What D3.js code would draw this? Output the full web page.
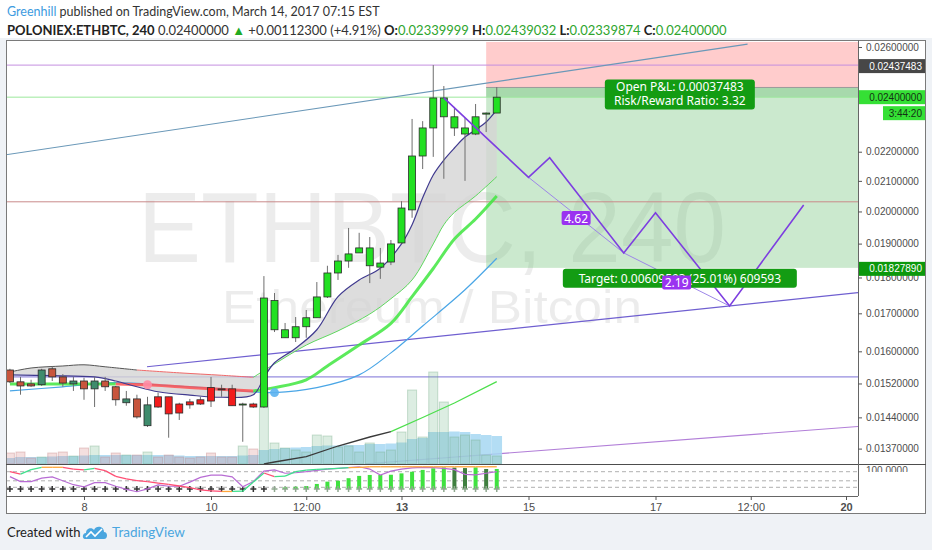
<!DOCTYPE html>
<html>
<head>
<meta charset="utf-8">
<script src="https://cdn.jsdelivr.net/npm/d3@7/dist/d3.min.js"></script>
<style>
  html, body { margin: 0; padding: 0; background: #eff2f6; }
  svg { display: block; }
  .axis text { font-family: 'Liberation Sans', Arial, sans-serif; font-size: 10px; fill: #4d4d4d; }
  .axis line { stroke: #555; }
  .axis .domain { display: none; }
</style>
</head>
<body>
<svg class="chart" width="932" height="550"></svg>
<script>
// ---- data ----
var author = 'Greenhill';
var published = 'March 14, 2017 07:15 EST';
var symbol = 'ETHBTC';
var exchange = 'POLONIEX';
var interval = '240';
var subtitle = 'Ethereum / Bitcoin';
var quote = {last: '0.02400000', change: '+0.00112300 (+4.91%)', o: '0.02339999', h: '0.02439032', l: '0.02339874', c: '0.02400000'};

var candleOpen = [0.01553, 0.01524, 0.01519, 0.01517, 0.01556, 0.01536, 0.01519, 0.01526, 0.01507, 0.01526,
                  0.01512, 0.01474, 0.01483, 0.01421, 0.01488, 0.01488, 0.01471, 0.01476, 0.01481, 0.01510,
                  0.01507, 0.01507, 0.01469, 0.01471, 0.01464, 0.01656, 0.01635, 0.01635, 0.01664, 0.01688,
                  0.01745, 0.01813, 0.01848, 0.01872, 0.01834, 0.01830, 0.01845, 0.01902, 0.02005, 0.02185,
                  0.02285, 0.02326, 0.02285, 0.02263, 0.02263, 0.02336, 0.02340];
var candleHigh = [0.01556, 0.01536, 0.01529, 0.01556, 0.01563, 0.01543, 0.01536, 0.01534, 0.01536, 0.01536,
                  0.01514, 0.01502, 0.01493, 0.01488, 0.01498, 0.01488, 0.01474, 0.01483, 0.01488, 0.01536,
                  0.01517, 0.01517, 0.01474, 0.01474, 0.01804, 0.01756, 0.01674, 0.01690, 0.01709, 0.01787,
                  0.01834, 0.01866, 0.01948, 0.01933, 0.01920, 0.01887, 0.01911, 0.02033, 0.02318, 0.02310,
                  0.02526, 0.02443, 0.02363, 0.02322, 0.02374, 0.02342, 0.02439];
var candleLow = [0.01521, 0.01493, 0.01512, 0.01514, 0.01526, 0.01512, 0.01502, 0.01481, 0.01464, 0.01502,
                 0.01467, 0.01467, 0.01437, 0.01418, 0.01462, 0.01394, 0.01434, 0.01460, 0.01469, 0.01464,
                 0.01488, 0.01467, 0.01385, 0.01462, 0.01462, 0.01650, 0.01635, 0.01624, 0.01635, 0.01688,
                 0.01742, 0.01793, 0.01828, 0.01872, 0.01784, 0.01796, 0.01836, 0.01899, 0.01980, 0.02140,
                 0.02182, 0.02107, 0.02256, 0.02100, 0.02259, 0.02270, 0.02340];
var candleClose = [0.01524, 0.01514, 0.01514, 0.01553, 0.01536, 0.01521, 0.01526, 0.01507, 0.01526, 0.01512,
                   0.01481, 0.01483, 0.01441, 0.01469, 0.01464, 0.01448, 0.01450, 0.01469, 0.01471, 0.01478,
                   0.01505, 0.01467, 0.01471, 0.01464, 0.01742, 0.01735, 0.01656, 0.01664, 0.01688, 0.01745,
                   0.01813, 0.01848, 0.01869, 0.01887, 0.01887, 0.01842, 0.01899, 0.02011, 0.02185, 0.02285,
                   0.02397, 0.02397, 0.02326, 0.02285, 0.02326, 0.02340, 0.02400];

var volume = [110, 120, 60, 70, 110, 120, 80, 160, 180, 70, 110, 90, 90, 120, 70, 90, 70, 60, 70, 110,
              70, 70, 180, 150, 720, 210, 160, 140, 120, 290, 280, 170, 180, 120, 210, 120, 140, 320, 740, 270,
              920, 620, 270, 290, 240, 90, 80];
var volumeAvg = [60, 70, 70, 70, 75, 80, 80, 85, 90, 90, 90, 90, 90, 90, 90, 90, 85, 80, 80, 80,
                 80, 80, 85, 90, 140, 150, 160, 165, 170, 180, 185, 185, 190, 190, 200, 200, 205, 215, 250, 260,
                 320, 320, 325, 320, 300, 290, 280];
var volumeTrend = [[24, 0], [25, 20], [28, 73], [31, 180], [34, 270], [36, 323], [39, 465], [42, 610], [46, 823]];

// moving averages: [bar, price]
var emaFast = [[0, 0.01541], [4, 0.01539], [8, 0.01536], [10, 0.01526], [12, 0.01512], [14, 0.01500], [17, 0.01492],
               [20, 0.01487], [23, 0.01493], [24, 0.01534], [25, 0.01571], [27, 0.01608], [29, 0.01656], [31, 0.01746],
               [33, 0.01793], [35, 0.01827], [37, 0.01899], [38, 0.01958], [39, 0.02044], [40, 0.02120], [41, 0.02171],
               [42, 0.02213], [43, 0.02252], [44, 0.02278], [45, 0.02307], [46, 0.02352]];
var emaSlow = [[0, 0.01548], [2, 0.01558], [5, 0.01563], [7, 0.01566], [9, 0.01561], [12, 0.01553], [16, 0.01546],
               [20, 0.01540], [23, 0.01535], [25, 0.01568], [28, 0.01616], [31, 0.01653], [34, 0.01698], [36, 0.01740],
               [38, 0.01793], [40, 0.01899], [41, 0.01958], [42, 0.01997], [44, 0.02050], [46, 0.02114]];
var emaMid = [[0, 0.01519], [5, 0.01519], [10, 0.01519], [13, 0.01517], [16, 0.01512], [19, 0.01507], [23, 0.01502],
              [25, 0.01510], [28, 0.01529], [30, 0.01563], [33, 0.01616], [36, 0.01673], [38, 0.01746], [40, 0.01826],
              [42, 0.01914], [44, 0.01976], [46, 0.02050]];
var emaLong = [[0, 0.01502], [5, 0.01512], [10, 0.01522], [15, 0.01515], [20, 0.01507], [23, 0.01500], [25, 0.01498],
               [29, 0.01510], [33, 0.01541], [36, 0.01596], [39, 0.01666], [43, 0.01765], [46, 0.01856]];
var crossDown = [13, 0.01517];
var crossUp = [25, 0.01498];

// lower pane
var stochK = [80, 71, 88, 97, 97, 97, 90, 87, 93, 84, 62, 52, 46, 42, 36, 31, 25, 19, 10, 6,
              4, 4, 5, 40, 75, 61, 63, 80, 86, 89, 91, 93, 96, 97, 99, 99, 99, 99, 99, 99,
              99, 99, 99, 99, 99, 99, 99];
var stochD = [61, 42, 42, 55, 60, 45, 30, 22, 38, 38, 24, 12, 3, 14, 29, 24, 24, 40, 58, 67,
              67, 60, 22, 42, 82, 87, 74, 76, 80, 85, 90, 93, 96, 99, 90, 67, 82, 90, 95, 97,
              96, 93, 88, 70, 68, 74, 80];
var momentum = [0, 0, 0, 0, 0, 0, 0, 0, 0, 0, 0, 0, 0, 0, 0, 0, 0, 0, 0, 0,
                0, 0, 0, 0, 0, 0, 7, 10, 13, 22, 32, 36, 47, 57, 61, 61, 62, 68, 75, 83,
                90, 94, 93, 91, 94, 87, 87];
var squeezeLastBar = 24;
var oscLevels = [80, 45, 20];

// drawings
var hLevels = [0.02526, 0.02031, 0.01536];
var trendTop = [[-0.4, 0.02189], [69.7, 0.02612]];
var trendMid = [[12.95, 0.01561], [68, 0.01720]];
var trendLow = [[33.55, 0.01337], [80.1, 0.01419]];
var wave = [[41, 0.02397], [49, 0.02112], [51, 0.02179], [58, 0.01872], [61, 0.01996], [68, 0.01720], [75, 0.02021]];
var waveRatios = [[1, 3, '4.62'], [3, 5, '2.19']];

var entryPrice = 0.02437483, stopPrice = 0.02621, targetPrice = 0.0182789, lastPrice = 0.024;
var positionStart = 45, positionEnd = 85;
var pnlText = ['Open P&L: 0.00037483', 'Risk/Reward Ratio: 3.32'];
var targetText = 'Target: 0.00609593 (25.01%) 609593';
var countdown = '3:44:20';

var priceTicks = [0.026, 0.022, 0.021, 0.020, 0.019, 0.018, 0.017, 0.016, 0.0152, 0.0144, 0.0137];
var timeTicks = ['2017-03-08T00:00Z', '2017-03-10T00:00Z', '2017-03-11T12:00Z', '2017-03-13T00:00Z',
                 '2017-03-15T00:00Z', '2017-03-17T00:00Z', '2017-03-18T12:00Z', '2017-03-20T00:00Z'];

// ---- layout ----
var pane = {left: 6, right: 858, top: 40, bottom: 464, oscBottom: 496, frameRight: 926, frameBottom: 514};
var barStart = Date.UTC(2017, 2, 6, 20);
var barMs = 4 * 3600 * 1000;

var x = d3.scaleUtc()
    .domain([new Date(Date.UTC(2017, 2, 8)), new Date(Date.UTC(2017, 2, 20))])
    .range([84, 846]);
function bx(i){ return x(new Date(barStart + i * barMs)); }

var y = d3.scaleLog().domain([0.0137, 0.026]).range([448.6, 47]);
var yVol = d3.scaleLinear().domain([0, 1000]).range([pane.bottom, pane.bottom - 100]);
var yOsc = d3.scaleLinear().domain([0, 100]).range([492.5, 466.5]);
var yMom = d3.scaleLinear().domain([0, 100]).range([489, 466]);

var svg = d3.select('svg.chart');
var defs = svg.append('defs');
defs.append('clipPath').attr('id', 'clip-price').append('rect')
    .attr('x', pane.left).attr('y', pane.top)
    .attr('width', pane.right - pane.left).attr('height', pane.bottom - pane.top);
defs.append('clipPath').attr('id', 'clip-osc').append('rect')
    .attr('x', pane.left).attr('y', pane.bottom)
    .attr('width', pane.right - pane.left).attr('height', pane.oscBottom - pane.bottom);
defs.append('clipPath').attr('id', 'clip-osc-label').append('rect')
    .attr('x', pane.right).attr('y', pane.bottom + 1)
    .attr('width', pane.frameRight - pane.right - 1).attr('height', 7);

svg.append('rect').attr('width', 932).attr('height', 38).attr('fill', '#fff');
svg.append('rect')
    .attr('x', pane.left).attr('y', pane.top)
    .attr('width', pane.frameRight - pane.left).attr('height', pane.frameBottom - pane.top)
    .attr('fill', '#fff');

// ---- price pane ----
var price = svg.append('g').attr('clip-path', 'url(#clip-price)');

var mid = (pane.left + pane.right) / 2;
price.append('text')
    .attr('x', mid).attr('y', 262).attr('text-anchor', 'middle')
    .attr('textLength', 588).attr('lengthAdjust', 'spacingAndGlyphs')
    .style('font', '100px "Liberation Sans", Arial, sans-serif')
    .attr('fill', 'rgba(0,0,0,0.075)')
    .text(symbol + ', ' + interval);
price.append('text')
    .attr('x', mid).attr('y', 323).attr('text-anchor', 'middle')
    .attr('textLength', 420).attr('lengthAdjust', 'spacingAndGlyphs')
    .style('font', '46px "Liberation Sans", Arial, sans-serif')
    .attr('fill', 'rgba(0,0,0,0.075)')
    .text(subtitle);

// position tool
var px0 = bx(positionStart), px1 = bx(positionEnd);
price.append('rect')
    .attr('x', px0).attr('y', y(stopPrice))
    .attr('width', px1 - px0).attr('height', y(entryPrice) - y(stopPrice))
    .attr('fill', 'rgba(255,120,120,0.38)');
price.append('rect')
    .attr('x', px0).attr('y', y(entryPrice))
    .attr('width', px1 - px0).attr('height', y(targetPrice) - y(entryPrice))
    .attr('fill', 'rgba(110,195,120,0.36)');
price.append('rect')
    .attr('x', px0).attr('y', y(entryPrice))
    .attr('width', px1 - px0).attr('height', y(lastPrice) - y(entryPrice))
    .attr('fill', 'rgba(60,170,70,0.25)');
price.append('line')
    .attr('x1', px0).attr('x2', px1).attr('y1', y(entryPrice)).attr('y2', y(entryPrice))
    .attr('stroke', '#9a9a9a');

// horizontal levels and current price
var levelColors = ['#c48fe0', '#c98a8a', '#7a70d6'];
price.selectAll('line.level').data(hLevels).enter().append('line')
    .attr('class', 'level')
    .attr('x1', pane.left).attr('x2', pane.right)
    .attr('y1', function(d){ return y(d); }).attr('y2', function(d){ return y(d); })
    .attr('stroke', function(d, i){ return levelColors[i]; });
price.append('line')
    .attr('x1', pane.left).attr('x2', pane.right)
    .attr('y1', y(lastPrice)).attr('y2', y(lastPrice))
    .attr('stroke', '#9be89b');

function trend(pts, color, extend){
    var x1 = bx(pts[0][0]), y1 = y(pts[0][1]), x2 = bx(pts[1][0]), y2 = y(pts[1][1]);
    if (extend){
        var k = (y2 - y1) / (x2 - x1);
        y2 = y2 + k * (pane.right - x2);
        x2 = pane.right;
    }
    price.append('line')
        .attr('x1', x1).attr('y1', y1).attr('x2', x2).attr('y2', y2)
        .attr('stroke', color).attr('stroke-width', 1.1);
}
trend(trendTop, '#6a98b8', false);
trend(trendMid, '#6f5fd0', true);
trend(trendLow, '#b27fd8', true);

// volume
price.selectAll('rect.vavg').data(volumeAvg).enter().append('rect')
    .attr('class', 'vavg')
    .attr('x', function(d, i){ return bx(i) - 5.3; })
    .attr('y', function(d){ return yVol(d); })
    .attr('width', 10.6)
    .attr('height', function(d){ return yVol(0) - yVol(d); })
    .attr('fill', '#a6d7f2').attr('opacity', 0.85);
price.selectAll('rect.vol').data(volume).enter().append('rect')
    .attr('class', 'vol')
    .attr('x', function(d, i){ return bx(i) - 4.5; })
    .attr('y', function(d){ return yVol(d); })
    .attr('width', 9)
    .attr('height', function(d){ return yVol(0) - yVol(d); })
    .attr('fill', function(d, i){ return candleClose[i] >= candleOpen[i] ? 'rgba(130,190,150,0.28)' : 'rgba(215,140,140,0.28)'; })
    .attr('stroke', function(d, i){ return candleClose[i] >= candleOpen[i] ? 'rgba(110,165,130,0.35)' : 'rgba(190,120,120,0.35)'; });

var volLine = d3.line()
    .x(function(d){ return bx(d[0]); })
    .y(function(d){ return yVol(d[1]); });
[[24, 36, '#3a3a3a'], [36, 46, '#4ddf4d']].forEach(function(r){
    price.append('path')
        .attr('d', volLine(volumeTrend.filter(function(d){ return d[0] >= r[0] && d[0] <= r[1]; })))
        .attr('fill', 'none').attr('stroke', r[2]).attr('stroke-width', 1.3);
});

// moving averages
var maLine = d3.line()
    .curve(d3.curveCatmullRom)
    .x(function(d){ return bx(d[0]); })
    .y(function(d){ return y(d[1]); });

price.append('path')
    .attr('d', maLine(emaFast) + maLine(emaSlow.slice().reverse()).replace(/^M/, 'L') + 'Z')
    .attr('fill', '#d4d4d4').attr('opacity', 0.8);

function segments(pts, ranges, width, opacity){
    ranges.forEach(function(r){
        var seg = pts.filter(function(d){ return d[0] >= r[0] && d[0] <= r[1]; });
        price.append('path')
            .attr('d', maLine(seg))
            .attr('fill', 'none')
            .attr('stroke', r[2]).attr('stroke-width', width).attr('stroke-opacity', opacity);
    });
}
segments(emaLong, [[0, 46, '#4aa6e6']], 1.2, 1);
segments(emaMid, [[0, 10, '#3fe63f'], [10, 23, '#ff5252'], [23, 46, '#3fe63f']], 3, 0.85);
segments(emaSlow, [[0, 12, '#555555'], [12, 23, '#f06a6a'], [23, 46, '#5fd85f']], 1, 1);
segments(emaFast, [[0, 46, '#403a8f']], 1.2, 1);

price.append('circle')
    .attr('cx', bx(crossDown[0])).attr('cy', y(crossDown[1])).attr('r', 4.5)
    .attr('fill', '#ff8ca4').attr('opacity', 0.9);
price.append('circle')
    .attr('cx', bx(crossUp[0])).attr('cy', y(crossUp[1])).attr('r', 4.5)
    .attr('fill', '#5cb3f0').attr('opacity', 0.9);

// candles
var candles = candleOpen.map(function(o, i){
    return {i: i, o: o, h: candleHigh[i], l: candleLow[i], c: candleClose[i]};
});
function candleColor(d){
    var up = d.c >= d.o;
    if (d.i < 14) return up ? '#3f8c6d' : '#c8553d';
    return up ? '#22e022' : '#f31c1c';
}
var candleG = price.selectAll('g.candle').data(candles).enter().append('g').attr('class', 'candle');
candleG.append('line')
    .attr('x1', function(d){ return bx(d.i); }).attr('x2', function(d){ return bx(d.i); })
    .attr('y1', function(d){ return y(d.h); }).attr('y2', function(d){ return y(d.l); })
    .attr('stroke', '#6e6e6e');
candleG.append('rect')
    .attr('x', function(d){ return bx(d.i) - 3.5; })
    .attr('y', function(d){ return y(Math.max(d.o, d.c)); })
    .attr('width', 7)
    .attr('height', function(d){ return Math.max(1, Math.abs(y(d.o) - y(d.c))); })
    .attr('fill', candleColor)
    .attr('stroke', '#2b2b2b').attr('stroke-width', 0.8);

// wave count
var waveLine = d3.line()
    .x(function(d){ return bx(d[0]); })
    .y(function(d){ return y(d[1]); });
waveRatios.forEach(function(r){
    price.append('path')
        .attr('d', waveLine([wave[r[0]], wave[r[1]]]))
        .attr('stroke', '#9d86e8').attr('stroke-width', 1).attr('fill', 'none');
});
price.append('path')
    .attr('d', waveLine(wave))
    .attr('stroke', '#7d3ee0').attr('stroke-width', 1.6).attr('fill', 'none');

function ratioBadge(r){
    var a = wave[r[0]], b = wave[r[1]];
    var cx = (bx(a[0]) + bx(b[0])) / 2, cy = (y(a[1]) + y(b[1])) / 2 + 3;
    price.append('rect')
        .attr('x', cx - 14.5).attr('y', cy - 7).attr('width', 29).attr('height', 14).attr('rx', 2)
        .attr('fill', '#9a33f0');
    price.append('text')
        .attr('x', cx).attr('y', cy + 4.5).attr('text-anchor', 'middle')
        .style('font', '12px "Noto Sans", sans-serif').attr('fill', '#fff')
        .text(r[2]);
}
ratioBadge(waveRatios[0]);

// position labels
var labelX = (px0 + px1) / 2 - 18;
var pnlTop = y(entryPrice) - 8;
price.append('rect')
    .attr('x', labelX - 75).attr('y', pnlTop).attr('width', 150).attr('height', 30).attr('rx', 3)
    .attr('fill', '#139c13');
price.selectAll('text.pnl').data(pnlText).enter().append('text')
    .attr('class', 'pnl')
    .attr('x', labelX).attr('y', function(d, i){ return pnlTop + 12 + i * 14; })
    .attr('text-anchor', 'middle')
    .style('font', '12px "Noto Sans", sans-serif').attr('fill', '#fff')
    .text(function(d){ return d; });
var tgtTop = y(targetPrice) + 1;
price.append('rect')
    .attr('x', labelX - 117).attr('y', tgtTop).attr('width', 234).attr('height', 19).attr('rx', 3)
    .attr('fill', '#139c13');
price.append('text')
    .attr('x', labelX).attr('y', tgtTop + 14).attr('text-anchor', 'middle')
    .style('font', '12px "Noto Sans", sans-serif').attr('fill', '#fff')
    .text(targetText);
// the second ratio badge sits on top of the target label, as in the snapshot
ratioBadge(waveRatios[1]);

// ---- lower pane ----
var osc = svg.append('g').attr('clip-path', 'url(#clip-osc)');
osc.selectAll('line.lvl').data(oscLevels).enter().append('line')
    .attr('x1', pane.left).attr('x2', pane.right)
    .attr('y1', function(d){ return yOsc(d); }).attr('y2', function(d){ return yOsc(d); })
    .attr('stroke', '#b0b0b0').attr('stroke-dasharray', '4,3');

momentum.forEach(function(d, i){
    if (d <= 0) return;
    osc.append('rect')
        .attr('x', bx(i) - 2).attr('y', yMom(d))
        .attr('width', 4).attr('height', yMom(0) - yMom(d))
        .attr('fill', d >= momentum[i - 1] ? '#3fe23f' : '#3f7f3f');
});

candles.forEach(function(d){
    var cx = bx(d.i), cy = yMom(0);
    osc.append('path')
        .attr('d', 'M' + (cx - 3) + ',' + cy + 'H' + (cx + 3) + 'M' + cx + ',' + (cy - 3) + 'V' + (cy + 3))
        .attr('stroke', d.i <= squeezeLastBar ? '#333' : '#8fa88f').attr('stroke-width', 1.5);
});

var oscLine = d3.line()
    .x(function(d, i){ return bx(i); })
    .y(function(d){ return yOsc(d); });
osc.append('path').attr('d', oscLine(stochD))
    .attr('fill', 'none').attr('stroke', '#b86cd4').attr('stroke-width', 1.2);
stochK.forEach(function(d, i){
    if (i === 0) return;
    var a = stochK[i - 1];
    var color = (a >= 95 && d >= 95) ? '#ffa53a' : (d > a ? '#3ee08c' : (d < a ? '#ff4f74' : '#ffa53a'));
    osc.append('line')
        .attr('x1', bx(i - 1)).attr('y1', yOsc(a)).attr('x2', bx(i)).attr('y2', yOsc(d))
        .attr('stroke', color).attr('stroke-width', 1.3);
});

// ---- frame and axes ----
var frame = svg.append('g').attr('stroke', '#666').attr('fill', 'none');
frame.append('rect')
    .attr('x', pane.left + 0.5).attr('y', pane.top + 0.5)
    .attr('width', pane.frameRight - pane.left - 1).attr('height', pane.frameBottom - pane.top - 1)
    .attr('stroke', '#7a7a7a');
frame.append('line').attr('x1', pane.left).attr('x2', pane.frameRight)
    .attr('y1', pane.bottom + 0.5).attr('y2', pane.bottom + 0.5).attr('stroke', '#4d4d4d');
frame.append('line').attr('x1', pane.left).attr('x2', pane.right)
    .attr('y1', pane.oscBottom + 0.5).attr('y2', pane.oscBottom + 0.5);
frame.append('line').attr('x1', pane.right + 0.5).attr('x2', pane.right + 0.5)
    .attr('y1', pane.top).attr('y2', pane.oscBottom);

svg.append('g').attr('class', 'axis')
    .attr('transform', 'translate(' + pane.right + ',0)')
    .call(d3.axisRight(y).tickValues(priceTicks).tickFormat(d3.format('.8f')).tickSize(4).tickPadding(4));

svg.append('g').attr('class', 'axis')
    .attr('transform', 'translate(0,' + pane.oscBottom + ')')
    .call(d3.axisBottom(x)
        .tickValues(timeTicks.map(function(d){ return new Date(d); }))
        .tickFormat(function(d){ return d.getUTCHours() ? d3.utcFormat('%H:%M')(d) : String(d.getUTCDate()); })
        .tickSize(4).tickPadding(3))
    .selectAll('text')
    .style('font-weight', function(d){ return d.getUTCDay() === 1 && !d.getUTCHours() ? 'bold' : 'normal'; })
    .style('font-size', '11px');

svg.append('text')
    .attr('clip-path', 'url(#clip-osc-label)')
    .attr('x', pane.right + 8).attr('y', pane.bottom + 10)
    .style('font', '10px "Liberation Sans", Arial, sans-serif').attr('fill', '#555')
    .text('100.0000');

// axis badges
function badge(yc, text, fill, color, x0){
    svg.append('rect')
        .attr('x', x0).attr('y', yc - 7).attr('width', pane.frameRight - 1 - x0).attr('height', 14)
        .attr('fill', fill);
    svg.append('text')
        .attr('x', pane.frameRight - 4).attr('y', yc + 3.5).attr('text-anchor', 'end')
        .style('font', '10px "Liberation Sans", Arial, sans-serif').attr('fill', color)
        .text(text);
}
badge(y(hLevels[0]) + 1, d3.format('.8f')(entryPrice), '#474747', '#fff', pane.right + 1);
badge(y(lastPrice), d3.format('.8f')(lastPrice), '#35e035', '#143214', pane.right + 1);
badge(y(lastPrice) + 16, countdown, '#35e035', '#143214', 883);
badge(y(targetPrice) + 1, d3.format('.8f')(targetPrice), '#0c980c', '#fff', pane.right + 1);

// ---- header ----
var head = svg.append('g').style('font-family', 'Lato, "Noto Sans", sans-serif').style('font-size', '13px')
    .style('white-space', 'pre');
var line1 = head.append('text').attr('x', 7).attr('y', 16).style('font-size', '12.5px');
line1.append('tspan').attr('fill', '#3d9be0').text(author);
line1.append('tspan').attr('fill', '#333').text(' published on TradingView.com, ' + published);

var green = '#2ea52e';
var parts = [
    [exchange + ':' + symbol + ', ' + interval, '#222', 'bold'],
    ['  ' + quote.last + ' ', '#333', 'normal'],
    ['\u25B2', '#22aa22', 'normal'],
    [' ' + quote.change + ' ', '#333', 'normal'],
    ['O:', '#222', 'bold'], [quote.o, green, 'normal'],
    [' H:', '#222', 'bold'], [quote.h, green, 'normal'],
    [' L:', '#222', 'bold'], [quote.l, green, 'normal'],
    [' C:', '#222', 'bold'], [quote.c, green, 'normal']
];
var line2 = head.append('text').attr('x', 7).attr('y', 35);
parts.forEach(function(p){
    line2.append('tspan').attr('fill', p[1]).style('font-weight', p[2]).text(p[0]);
});

// ---- footer ----
var foot = svg.append('g');
foot.append('text').attr('x', 7).attr('y', 537)
    .style('font', '13px Lato, "Noto Sans", sans-serif').attr('fill', '#222')
    .text('Created with');
var logo = foot.append('g').attr('transform', 'translate(83,524)');
logo.append('path')
    .attr('d', 'M2,15 C-1,15 -1,9 3,9 C3,4 9,3 11,6 C13,1 21,2 21,8 C25,8 25,15 21,15 Z')
    .attr('fill', '#4aa6df');
logo.append('path')
    .attr('d', 'M3,13 L8,8 L12,12 L19,5')
    .attr('fill', 'none').attr('stroke', '#fff').attr('stroke-width', 1.6);
foot.append('text').attr('x', 112).attr('y', 537)
    .style('font', '13.5px Lato, "Noto Sans", sans-serif').attr('fill', '#4aa6df')
    .text('TradingView');
</script>
</body>
</html>
